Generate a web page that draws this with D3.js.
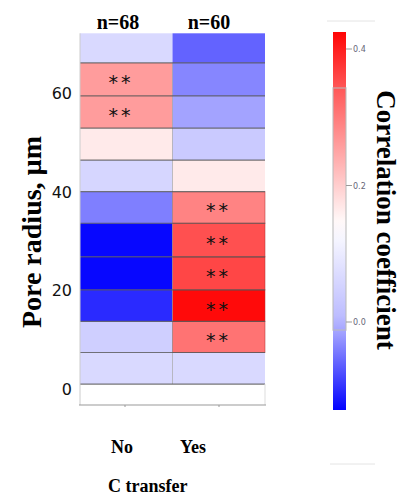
<!DOCTYPE html>
<html>
<head>
<meta charset="utf-8">
<script src="https://cdn.jsdelivr.net/npm/d3@7"></script>
<style>
  body { margin: 0; background: #fff; }
  svg { display: block; }
</style>
</head>
<body>
<svg id="chart" width="406" height="504"></svg>
<script>
// pore radius bins (µm), bottom to top
const binEdges = [1, 7.4, 13.7, 20.1, 26.8, 33.6, 40, 46.4, 52.9, 59.4, 66.1, 72.1];
const groups = ['No', 'Yes'];
const groupN = ['n=68', 'n=60'];
// correlation per bin, bottom to top
const corrNo = [0.065, 0.045, -0.1, -0.125, -0.125, -0.04, 0.06, 0.165, 0.26, 0.26, 0.065];
const corrYes = [0.065, 0.31, 0.42, 0.36, 0.35, 0.29, 0.165, 0.035, -0.015, -0.035, -0.06];
const sigNo = [0, 0, 0, 0, 0, 0, 0, 0, 1, 1, 0];
const sigYes = [0, 1, 1, 1, 1, 1, 0, 0, 0, 0, 0];
const yTicks = [0, 20, 40, 60];
const cbTicks = [0.0, 0.2, 0.4];

const svg = d3.select('#chart');
const serif = 'Liberation Serif, Times New Roman, serif';

const x = d3.scaleBand().domain(groups).range([80, 265]);
const y = d3.scaleLinear().domain([0, 60]).range([389, 93]);

const color = d3.scaleLinear()
  .domain([-0.13, 0.0, 0.14, 0.34, 0.43])
  .range(['#0000ff', '#b8b8ff', '#ffffff', '#ff5a5a', '#ff0000'])
  .clamp(true);

const cells = [];
groups.forEach((g, gi) => {
  const vals = gi === 0 ? corrNo : corrYes;
  const sig = gi === 0 ? sigNo : sigYes;
  vals.forEach((v, i) => cells.push({ g, lo: binEdges[i], hi: binEdges[i + 1], v, sig: sig[i] }));
});

// white empty bottom band
svg.append('rect')
  .attr('x', 80).attr('y', y(binEdges[0])).attr('width', 185).attr('height', 405 - y(binEdges[0]))
  .attr('fill', '#fff');

svg.append('g').selectAll('rect')
  .data(cells)
  .join('rect')
  .attr('x', d => x(d.g))
  .attr('y', d => y(d.hi))
  .attr('width', x.bandwidth())
  .attr('height', d => y(d.lo) - y(d.hi))
  .attr('fill', d => color(d.v))
  .attr('stroke', d => d.sig && d.g === 'Yes' ? '#b03030' : 'none')
  .attr('stroke-opacity', 0.5);

// column separator
svg.append('line')
  .attr('x1', x('Yes')).attr('x2', x('Yes'))
  .attr('y1', y(binEdges[binEdges.length - 2])).attr('y2', y(binEdges[0]))
  .attr('stroke', '#999').attr('stroke-opacity', 0.6);

// row lines
svg.append('g').selectAll('line')
  .data(binEdges.slice(0, -1))
  .join('line')
  .attr('x1', 80).attr('x2', 265)
  .attr('y1', d => y(d)).attr('y2', d => y(d))
  .attr('stroke', '#555').attr('stroke-width', 1.2).attr('stroke-opacity', 0.8);

// left edge + bottom axis
svg.append('line').attr('x1', 80).attr('x2', 80).attr('y1', y(binEdges[binEdges.length - 1])).attr('y2', 405)
  .attr('stroke', '#ccc');
svg.append('line').attr('x1', 265).attr('x2', 265).attr('y1', y(binEdges[0])).attr('y2', 405)
  .attr('stroke', '#ddd');
svg.append('line').attr('x1', 79).attr('x2', 266).attr('y1', 405).attr('y2', 405)
  .attr('stroke', '#999').attr('stroke-width', 1.2);
svg.append('g').selectAll('line')
  .data([125, 219])
  .join('line')
  .attr('x1', d => d).attr('x2', d => d).attr('y1', 405).attr('y2', 407)
  .attr('stroke', '#999');

// significance stars
svg.append('g').selectAll('text')
  .data(cells.filter(d => d.sig))
  .join('text')
  .attr('x', d => x(d.g) + (d.g === 'No' ? 41 : 46))
  .attr('y', d => (y(d.lo) + y(d.hi)) / 2 + 10)
  .attr('text-anchor', 'middle')
  .attr('font-family', 'DejaVu Sans, sans-serif')
  .attr('font-size', 19)
  .attr('letter-spacing', 3)
  .attr('fill', '#111')
  .text('**');

// y axis tick labels
svg.append('g').selectAll('text')
  .data(yTicks)
  .join('text')
  .attr('x', 72).attr('y', d => y(d) + 6)
  .attr('text-anchor', 'end')
  .attr('font-family', 'DejaVu Sans, sans-serif')
  .attr('font-size', 16)
  .attr('fill', '#111')
  .text(d => d);

// n labels
svg.append('g').selectAll('text')
  .data(groupN)
  .join('text')
  .attr('x', (d, i) => [118, 209][i]).attr('y', 29)
  .attr('text-anchor', 'middle')
  .attr('font-family', serif).attr('font-weight', 'bold').attr('font-size', 20)
  .text(d => d);

// x category labels
svg.append('g').selectAll('text')
  .data(groups)
  .join('text')
  .attr('x', (d, i) => [122, 193][i]).attr('y', 453)
  .attr('text-anchor', 'middle')
  .attr('font-family', serif).attr('font-weight', 'bold').attr('font-size', 18)
  .text(d => d);

svg.append('text')
  .attr('x', 108).attr('y', 492)
  .attr('font-family', serif).attr('font-weight', 'bold').attr('font-size', 18)
  .text('C transfer');

svg.append('text')
  .attr('transform', 'translate(41,232) rotate(-90)')
  .attr('text-anchor', 'middle')
  .attr('font-family', serif).attr('font-weight', 'bold').attr('font-size', 28)
  .text('Pore radius, µm');

// colorbar
const cb = d3.scaleLinear().domain([0, 0.4]).range([322, 49]);
const defs = svg.append('defs');
const grad = defs.append('linearGradient').attr('id', 'cbGrad')
  .attr('x1', 0).attr('x2', 0).attr('y1', 1).attr('y2', 0);
const cbMin = cb.invert(410), cbMax = cb.invert(32);
d3.range(0, 1.0001, 0.05).forEach(t => {
  grad.append('stop').attr('offset', t).attr('stop-color', color(cbMin + t * (cbMax - cbMin)));
});
svg.append('rect')
  .attr('x', 333).attr('y', cb(cbMax)).attr('width', 13).attr('height', cb(cbMin) - cb(cbMax))
  .attr('fill', 'url(#cbGrad)');
svg.append('rect')
  .attr('x', 333).attr('y', 88).attr('width', 13).attr('height', 242)
  .attr('fill', 'none').attr('stroke', '#bbb').attr('stroke-width', 1.5).attr('stroke-opacity', 0.7);

svg.append('g').selectAll('line')
  .data(cbTicks)
  .join('line')
  .attr('x1', 346).attr('x2', 352)
  .attr('y1', d => cb(d)).attr('y2', d => cb(d))
  .attr('stroke', '#999');
svg.append('g').selectAll('text')
  .data(cbTicks)
  .join('text')
  .attr('x', 353).attr('y', d => cb(d) + 3)
  .attr('font-family', 'DejaVu Sans, sans-serif').attr('font-size', 8)
  .attr('fill', '#667')
  .text(d => d.toFixed(1));

svg.append('text')
  .attr('transform', 'translate(377,220) rotate(90)')
  .attr('text-anchor', 'middle')
  .attr('font-family', serif).attr('font-weight', 'bold').attr('font-size', 27)
  .text('Correlation coefficient');

// faint frame lines around colorbar
svg.append('line').attr('x1', 327).attr('x2', 375).attr('y1', 21).attr('y2', 21).attr('stroke', '#e4e4e4');
svg.append('line').attr('x1', 330).attr('x2', 375).attr('y1', 464).attr('y2', 464).attr('stroke', '#e4e4e4');
</script>
</body>
</html>
